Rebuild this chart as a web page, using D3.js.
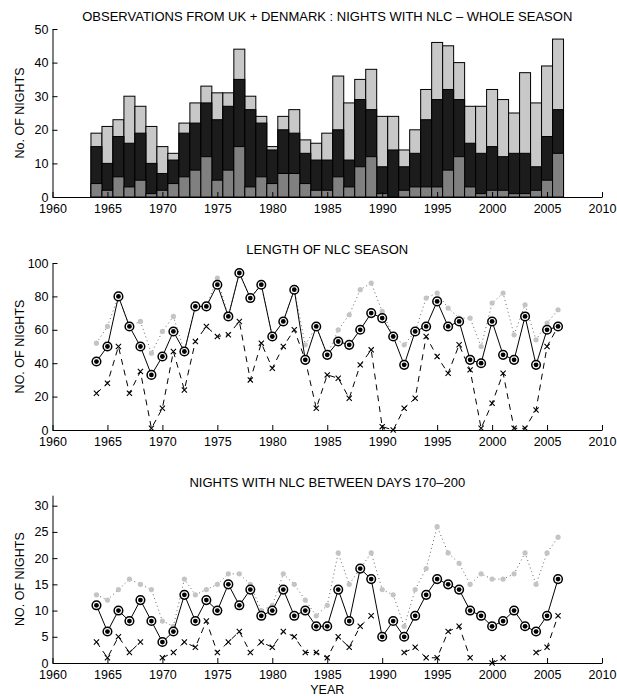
<!DOCTYPE html>
<html><head><meta charset="utf-8">
<script src="https://cdn.jsdelivr.net/npm/d3@7/dist/d3.min.js"></script>
<style>
body{margin:0;background:#fff}
text{font-family:"Liberation Sans",Arial,Helvetica,sans-serif;fill:#000}
.axis text{font-size:12.5px}
.axis path,.axis line{stroke:#000;stroke-width:1}
</style>
</head><body>
<svg id="c" width="617" height="696" style="background:#fff"></svg>
<script>
// ---------- DATA ----------
const years = [1964,1965,1966,1967,1968,1969,1970,1971,1972,1973,1974,1975,1976,1977,1978,1979,1980,1981,1982,1983,1984,1985,1986,1987,1988,1989,1990,1991,1992,1993,1994,1995,1996,1997,1998,1999,2000,2001,2002,2003,2004,2005,2006];
const xTicks = [1960,1965,1970,1975,1980,1985,1990,1995,2000,2005,2010];

// Panel 1: nights with NLC (whole season) - overlaid bars
const nightsTotal = [19,21,23,30,27,21,15,13,22,28,33,31,31,44,30,24,15,24,26,17,16,19,36,28,35,38,24,24,14,20,32,46,45,40,27,27,32,29,25,37,28,39,47];
const nightsMid   = [15,10,18,16,19,10,7,11,19,22,28,23,27,35,26,22,14,20,19,13,11,11,20,11,29,26,9,14,9,13,23,29,32,29,16,13,15,12,13,13,9,18,26];
const nightsLow   = [4,2,6,3,5,1,2,4,6,8,12,5,8,15,3,6,4,7,7,4,2,2,6,3,9,12,1,0,2,3,3,3,8,12,3,1,2,2,1,1,2,5,13];
const yTicks1 = [0,10,20,30,40,50];

// Panel 2: length of NLC season
const seasonSolid = [41,50,80,62,50,33,44,59,47,74,74,87,68,94,79,87,56,65,84,42,62,45,53,51,60,70,67,56,39,59,62,77,62,65,42,40,65,45,42,68,39,60,62];
const seasonGrey  = [52,62,80,62,65,46,59,68,47,74,74,91,68,94,79,87,56,65,84,51,62,45,60,69,84,88,71,56,51,59,79,82,73,67,67,50,76,82,57,75,54,64,72];
const seasonDash  = [22,28,50,22,35,1,13,47,24,53,62,56,57,65,30,52,37,50,60,42,13,33,31,19,39,48,2,0,13,19,56,44,34,51,36,1,16,34,1,1,12,50,62];
const yTicks2 = [0,20,40,60,80,100];

// Panel 3: nights with NLC between days 170-200
const midSolid = [11,6,10,8,12,8,4,6,13,8,12,10,15,11,14,9,10,14,9,10,7,7,14,8,18,16,5,8,5,9,13,16,15,14,10,9,7,8,10,7,6,9,16];
const midGrey  = [13,12,14,16,15,14,8,7,16,13,14,15,17,17,15,10,11,17,15,12,9,11,21,15,18,21,14,13,7,14,18,26,21,19,15,17,16,16,17,21,15,21,24];
const midDash  = [4,1,5,2,4,null,1,2,4,3,8,2,4,6,2,4,3,6,5,2,2,1,5,3,7,9,null,null,2,3,1,1,6,7,1,null,0,1,null,null,2,3,9];
const yTicks3 = [0,5,10,15,20,25,30];

const titles = ["OBSERVATIONS FROM UK + DENMARK : NIGHTS WITH NLC \u2013 WHOLE SEASON",
                "LENGTH OF NLC SEASON",
                "NIGHTS WITH NLC BETWEEN DAYS 170\u2013200"];
const yLabels = ["No. OF NIGHTS","NO. OF NIGHTS","NO. OF NIGHTS"];
const xLabel = "YEAR";

// ---------- DRAW ----------
const svg = d3.select("#c");
svg.append("rect").attr("width",617).attr("height",696).attr("fill","#fff");
const x = d3.scaleLinear().domain([1960,2010]).range([52.5,602]);

function frame(y, yTicks, title, titleY, ylab) {
  const g = svg.append("g");
  g.append("g").attr("class","axis")
    .attr("transform",`translate(0,${y(0)})`)
    .call(d3.axisBottom(x).tickValues(xTicks).tickFormat(d3.format("d"))
      .tickSizeInner(-5).tickSizeOuter(0).tickPadding(7));
  g.append("g").attr("class","axis")
    .attr("transform",`translate(${x(1960)},0)`)
    .call(d3.axisLeft(y).tickValues(yTicks).tickFormat(d3.format("d"))
      .tickSizeInner(-5).tickSizeOuter(0).tickPadding(4));
  svg.append("text").attr("x",(x.range()[0]+x.range()[1])/2).attr("y",titleY)
    .attr("text-anchor","middle").style("font-size","13px").text(title);
  const yc = (y.range()[0]+y.range()[1])/2;
  svg.append("text").attr("transform",`translate(24,${yc}) rotate(-90)`)
    .attr("text-anchor","middle").style("font-size","12.5px").text(ylab);
}

// Panel 1
const y1 = d3.scaleLinear().domain([0,50]).range([197,29]);
const bw = x(1961)-x(1960);
[[nightsTotal,"#c8c8c8"],[nightsMid,"#1c1c1c"],[nightsLow,"#808080"]].forEach(([vals,col])=>{
  svg.append("g").selectAll("rect").data(years.map((yr,i)=>({yr,v:vals[i]})).filter(d=>d.v>0))
    .join("rect")
    .attr("x",d=>x(d.yr)-bw/2).attr("width",bw)
    .attr("y",d=>y1(d.v)).attr("height",d=>y1(0)-y1(d.v))
    .attr("fill",col).attr("stroke","#000").attr("stroke-width",1);
});
frame(y1, yTicks1, titles[0], 21, yLabels[0]);

function linePanel(y, solid, grey, dash) {
  const mk = vals => years.map((yr,i)=>({yr,v:vals[i]}));
  const ln = d3.line().defined(d=>d.v!==null).x(d=>x(d.yr)).y(d=>y(d.v));
  const g = svg.append("g");
  // grey dotted
  g.append("path").datum(mk(grey)).attr("d",ln).attr("fill","none")
    .attr("stroke","#666").attr("stroke-width",1).attr("stroke-dasharray","1,3");
  g.append("g").selectAll("circle").data(mk(grey)).join("circle")
    .attr("cx",d=>x(d.yr)).attr("cy",d=>y(d.v)).attr("r",2.6).attr("fill","#c4c4c4");
  // dashed with crosses
  g.append("path").datum(mk(dash)).attr("d",ln).attr("fill","none")
    .attr("stroke","#000").attr("stroke-width",1).attr("stroke-dasharray","6,5");
  const cr = 2.6;
  g.append("g").selectAll("path").data(mk(dash).filter(d=>d.v!==null)).join("path")
    .attr("d",d=>{const cx=x(d.yr), cy=y(d.v);
      return `M${cx-cr},${cy-cr}L${cx+cr},${cy+cr}M${cx-cr},${cy+cr}L${cx+cr},${cy-cr}`;})
    .attr("stroke","#000").attr("stroke-width",1.1);
  // solid with ringed dots
  g.append("path").datum(mk(solid)).attr("d",ln).attr("fill","none")
    .attr("stroke","#000").attr("stroke-width",1);
  const pts = g.append("g").selectAll("g").data(mk(solid)).join("g")
    .attr("transform",d=>`translate(${x(d.yr)},${y(d.v)})`);
  pts.append("circle").attr("r",4.3).attr("fill","#fff").attr("stroke","#000").attr("stroke-width",1.5);
  pts.append("circle").attr("r",2.4).attr("fill","#000");
}

// Panel 2
const y2 = d3.scaleLinear().domain([0,100]).range([430,263]);
linePanel(y2, seasonSolid, seasonGrey, seasonDash);
frame(y2, yTicks2, titles[1], 254, yLabels[1]);

// Panel 3
const y3 = d3.scaleLinear().domain([0,32]).range([663,495.2]);
linePanel(y3, midSolid, midGrey, midDash);
frame(y3, yTicks3, titles[2], 487, yLabels[2]);

svg.append("text").attr("x",(x.range()[0]+x.range()[1])/2).attr("y",694)
  .attr("text-anchor","middle").style("font-size","12.5px").text(xLabel);
</script>
</body></html>
